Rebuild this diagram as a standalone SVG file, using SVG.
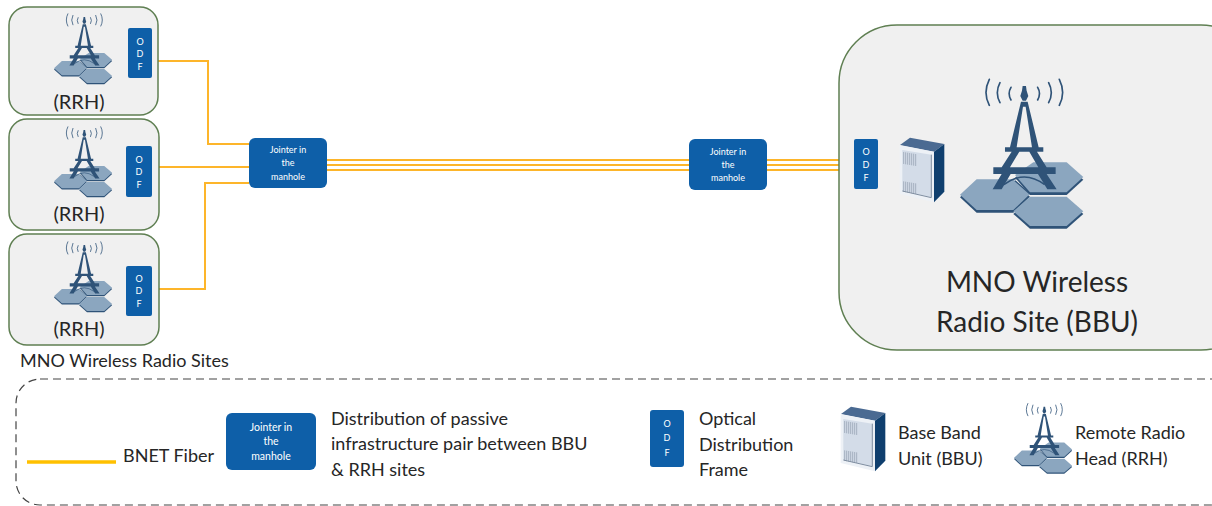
<svg xmlns="http://www.w3.org/2000/svg" xmlns:xlink="http://www.w3.org/1999/xlink" width="1212" height="506" viewBox="0 0 1212 506">
<style>
text{font-family:Lato,"Open Sans","Liberation Sans",sans-serif;fill:#262626}
.site{fill:#f0f0f0;stroke:#5f7f52;stroke-width:1.5}
.blue{fill:#0e5fa8}
.w{fill:#fff;text-anchor:middle;font-size:9px}
.odf{fill:#fff;text-anchor:middle;font-size:9px}
.f{fill:none;stroke:#fdb52a;stroke-width:2}
.l{font-size:18px}
.hx{fill:#8ba6bf}
.hs{fill:#2f5378}
.d{fill:#2f5378}
.a{fill:none;stroke:#2f5378;stroke-width:5;stroke-linecap:round}
</style>
<defs>
<g id="tower">
<path class="hs" d="M555,353L610,315H710L760,359L710,405H600Z"/>
<path class="hx" d="M555,345L610,307H710L760,351L710,397H600Z"/>
<path class="hs" d="M390,412L440,366H550L600,410L550,458H440Z"/>
<path class="hx" d="M390,404L440,358H550L600,402L550,450H440Z"/>
<path class="hs" d="M550,462L600,418H710L760,462L710,506H600Z"/>
<path class="hx" d="M550,454L600,410H710L760,454L710,498H600Z"/>
<path fill="none" stroke="#2f5378" stroke-width="4" d="M555,362L600,402M522,374Q583,328 644,374"/>
<path class="d" d="M573,125H593L626,262H640V275H621L650,322H677V342H650L680,388H652L624,342H542L515,388H488L515,342H490V322H515L545,275H525V262H540ZM579,140L560,262H606L587,140ZM568,275L540,322H625L598,275Z"/>
<path class="d" d="M578,78H588L590,92L595,108L588,122H578L571,108L576,92Z"/>
<path class="a" d="M478,58Q458,98 478,136M510,68Q494,98 510,128M543,82Q532,100 543,120M623,82Q634,100 623,120M656,68Q672,98 656,128M688,58Q708,98 688,136"/>
</g>
<g id="bbu">
<path fill="#4a6a92" d="M210,255L240,233L343,252L312,275Z"/>
<path fill="#edf1f6" d="M209,256L312,275V427L209,402Z"/>
<path fill="#d3dce8" d="M217,270L304,284V412L217,392Z"/>
<path fill="#0f3f6e" d="M312,275L343,252V395L312,427Z"/>
<path fill="none" stroke="#8e9aaa" stroke-width="2" d="M221,276V312M227,277V313M233,278V314M239,279V315M245,280V316M251,281V317M257,282V318M221,364V396M227,365V397M233,366V398M239,367V399M245,368V400M251,369V401M257,370V402"/>
<path fill="none" stroke="#7d8da0" stroke-width="3" d="M217,393L304,413V284"/>
</g>
</defs>
<rect width="1212" height="506" fill="#fff"/>
<g id="connectors">
<path class="f" d="M158,61H208V144H249"/>
<path class="f" d="M152,167H249"/>
<path class="f" d="M152,289H205V183H249"/>
<path class="f" d="M327,160H689M327,165H689M327,170H689"/>
<path class="f" d="M767,160H854M767,165H854M767,170H854"/>
</g>
<g id="rrh-site-1">
<rect class="site" x="9" y="7" width="149" height="108" rx="18"/>
<use xlink:href="#tower" href="#tower" transform="translate(-7.2,4.7) scale(.157)"/>
<rect class="blue" x="128" y="28" width="24" height="50" rx="2"/>
<text class="odf" x="140" y="44.500">O</text><text class="odf" x="140" y="57">D</text><text class="odf" x="140" y="70">F</text>
<text x="79" y="109" font-size="20" text-anchor="middle">(RRH)</text>
</g>
<g id="rrh-site-2">
<rect class="site" x="9" y="119" width="150" height="111" rx="18"/>
<use xlink:href="#tower" href="#tower" transform="translate(-7.2,117.700) scale(.157)"/>
<rect class="blue" x="126" y="146" width="26" height="51" rx="2"/>
<text class="odf" x="139" y="163">O</text><text class="odf" x="139" y="175">D</text><text class="odf" x="139" y="188">F</text>
<text x="79" y="221" font-size="20" text-anchor="middle">(RRH)</text>
</g>
<g id="rrh-site-3">
<rect class="site" x="9" y="234" width="150" height="111" rx="18"/>
<use xlink:href="#tower" href="#tower" transform="translate(-7.2,232.700) scale(.157)"/>
<rect class="blue" x="126" y="266" width="26" height="50" rx="2"/>
<text class="odf" x="139" y="282">O</text><text class="odf" x="139" y="294">D</text><text class="odf" x="139" y="307">F</text>
<text x="79" y="336" font-size="20" text-anchor="middle">(RRH)</text>
</g>
<text id="sites-label" x="20" y="367" font-size="18">MNO Wireless Radio Sites</text>
<g id="jointer-1">
<rect class="blue" x="249" y="138" width="78" height="50" rx="6"/>
<text class="w" x="288" y="153">Jointer in</text><text class="w" x="288" y="166">the</text><text class="w" x="288" y="180">manhole</text>
</g>
<g id="jointer-2">
<rect class="blue" x="689" y="139" width="78" height="51" rx="6"/>
<text class="w" x="728" y="155">Jointer in</text><text class="w" x="728" y="168">the</text><text class="w" x="728" y="181">manhole</text>
</g>
<g id="bbu-site">
<rect class="site" x="839" y="25" width="420" height="325" rx="58"/>
<rect class="blue" x="854" y="139" width="24" height="50" rx="2"/>
<text class="odf" x="866" y="155">O</text><text class="odf" x="866" y="168">D</text><text class="odf" x="866" y="181">F</text>
<use xlink:href="#bbu" href="#bbu" transform="translate(830,60) scale(.3333)"/>
<use xlink:href="#tower" href="#tower" transform="translate(830,60) scale(.3333)"/>
<text x="1037" y="292" font-size="28" text-anchor="middle">MNO Wireless</text>
<text x="1037" y="332" font-size="28" text-anchor="middle">Radio Site (BBU)</text>
</g>
<g id="legend">
<rect x="16" y="379" width="1240" height="126" rx="24" fill="none" stroke="#444" stroke-width="1.2" stroke-dasharray="8 5"/>
<path fill="none" stroke="#ffc000" stroke-width="3.500" d="M27,462H116"/>
<text class="l" x="123" y="462">BNET Fiber</text>
<rect class="blue" x="226" y="413" width="90" height="57" rx="6"/>
<text class="w" style="font-size:10.500px" x="271" y="431">Jointer in</text><text class="w" style="font-size:10.500px" x="271" y="445">the</text><text class="w" style="font-size:10.500px" x="271" y="460">manhole</text>
<text class="l" x="331" y="425">Distribution of passive</text>
<text class="l" x="331" y="450">infrastructure pair between BBU</text>
<text class="l" x="331" y="476">&amp; RRH sites</text>
<rect class="blue" x="650" y="410" width="34" height="57" rx="3"/>
<text class="odf" x="667" y="427">O</text><text class="odf" x="667" y="441">D</text><text class="odf" x="667" y="456">F</text>
<text class="l" x="699" y="425">Optical</text><text class="l" x="699" y="451">Distribution</text><text class="l" x="699" y="476">Frame</text>
<use xlink:href="#bbu" href="#bbu" transform="translate(771,329) scale(.3333)"/>
<text class="l" x="898" y="439">Base Band</text><text class="l" x="898" y="465">Unit (BBU)</text>
<use xlink:href="#tower" href="#tower" transform="translate(952.800,394.400) scale(.157)"/>
<text class="l" x="1075" y="439">Remote Radio</text><text class="l" x="1075" y="465">Head (RRH)</text>
</g>
</svg>
